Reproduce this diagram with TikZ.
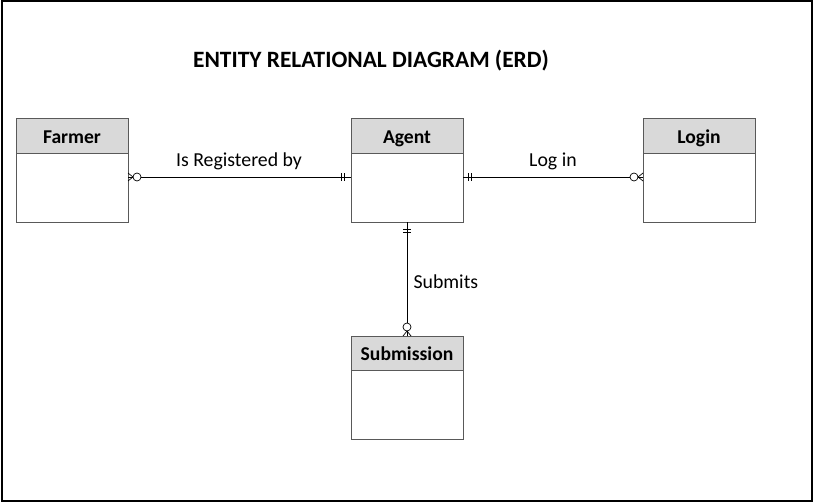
\documentclass[tikz,border=0pt]{standalone}
\usetikzlibrary{calc}
\usepackage{fontspec}
\setmainfont{Carlito}
\begin{document}
\begin{tikzpicture}[x=1pt,y=-1pt,
  hdr/.style={draw=black!65,fill=black!15,line width=1pt},
  bdy/.style={draw=black!65,fill=white,line width=1pt},
  ttl/.style={font=\fontsize{19.6}{22}\selectfont\bfseries,anchor=base},
  lbl/.style={font=\fontsize{19.8}{22}\selectfont,anchor=base},
  rel/.style={draw=black,line width=0.8pt},
  mk/.style={draw=black,line width=0.7pt}]
\useasboundingbox (0,0) rectangle (815,503);
\draw[line width=2pt] (2,1.5) rectangle (812,501);
\node[font=\fontsize{23.4}{26}\selectfont\bfseries,anchor=base] (title) at (371,68) {ENTITY RELATIONAL DIAGRAM (ERD)};
% entities
\newcommand{\entity}[4]{%
  \draw[bdy] (#1,#2+34) rectangle (#1+112,#2+103);
  \draw[hdr] (#1,#2) rectangle (#1+112,#2+34);
  \node[ttl] (#3) at (#1+56,#2+24) {#4};
  \coordinate (#3-b) at (#1,#2+34);
}
\entity{16}{119}{farmer}{Farmer}
\entity{351}{119}{agent}{Agent}
\entity{643}{119}{login}{Login}
\entity{351}{336}{sub}{Submission}
\coordinate (fR) at (128,177);
\coordinate (aL) at (351,177);
\coordinate (aR) at (463,177);
\coordinate (lL) at (643,177);
\coordinate (aB) at (407,222);
\coordinate (sT) at (407,336);
% Farmer - Agent
\draw[rel] ($(fR)+(13,0)$) -- (aL);
\draw[mk] (fR) ++(9,0) circle (4);
\draw[mk] (fR) ++(0,-4) -- ++(5,4) -- ++(-5,4);
\draw[mk] (fR) -- ++(5,0);
\draw[mk] (aL) ++(-10,-4) -- ++(0,8) ++(3,-8) -- ++(0,8);
% Agent - Login
\draw[rel] (aR) -- ($(lL)+(-13,0)$);
\draw[mk] (aR) ++(5,-4) -- ++(0,8) ++(3,-8) -- ++(0,8);
\draw[mk] (lL) ++(-9,0) circle (4);
\draw[mk] (lL) ++(0,-4) -- ++(-5,4) -- ++(5,4);
\draw[mk] (lL) -- ++(-5,0);
% Agent - Submission
\draw[rel] (aB) -- ($(sT)+(0,-13)$);
\draw[mk] (aB) ++(-4,7) -- ++(8,0) ++(-8,3) -- ++(8,0);
\draw[mk] (sT) ++(0,-9) circle (4);
\draw[mk] (sT) ++(-4,0) -- ++(4,-5) -- ++(4,5);
\draw[mk] (sT) -- ++(0,-5);
% labels
\node[lbl] (l1) at (239,166) {Is Registered by};
\node[lbl] (l2) at (553,166) {Log in};
\node[lbl,anchor=base west] (l3) at (410,288) {Submits};
\end{tikzpicture}
\end{document}
